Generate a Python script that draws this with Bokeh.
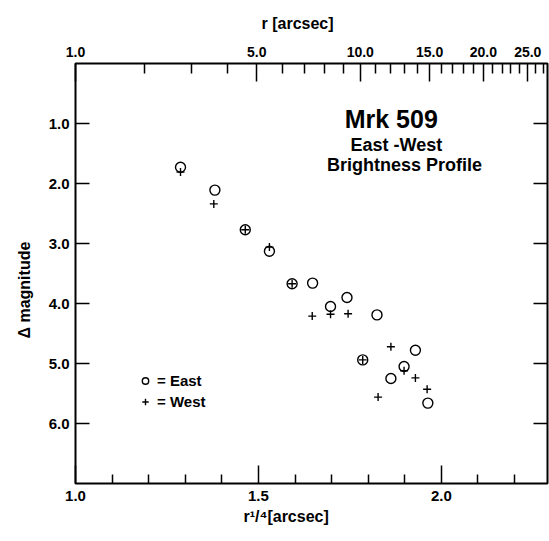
from bokeh.plotting import figure
from bokeh.models import (Range1d, LinearAxis, FixedTicker, CustomJSTickFormatter,
                          Label, Legend, LegendItem, ColumnDataSource, Title)
from bokeh.embed import file_html
from bokeh.resources import INLINE

# ---- data (x = r^(1/4) in arcsec^(1/4), y = delta magnitude) ----
east_r14 = [1.287, 1.381, 1.464, 1.530, 1.592, 1.648, 1.697, 1.742, 1.785, 1.824, 1.862, 1.898, 1.929, 1.963]
east_dmag = [1.73, 2.11, 2.77, 3.13, 3.67, 3.66, 4.05, 3.90, 4.94, 4.19, 5.25, 5.05, 4.78, 5.66]

west_r14 = [1.287, 1.378, 1.464, 1.530, 1.592, 1.647, 1.697, 1.745, 1.785, 1.827, 1.862, 1.898, 1.929, 1.961]
west_dmag = [1.81, 2.34, 2.77, 3.06, 3.67, 4.21, 4.18, 4.17, 4.94, 5.56, 4.72, 5.12, 5.24, 5.43]

# ---- ticks ----
bottom_major = [1.0, 1.5, 2.0]
bottom_minor = [1.1, 1.2, 1.3, 1.4, 1.6, 1.7, 1.8, 1.9, 2.1, 2.2]
top_major_r = [1, 5, 10, 15, 20, 25]
top_minor_r = [2, 3, 4, 6, 7, 8, 9, 11, 12, 13, 14, 16, 17, 18, 19, 21, 22, 23, 24, 26, 27]
y_ticks = [1, 2, 3, 4, 5, 6]

FONT = "Liberation Sans"

p = figure(width=549, height=541,
           x_range=Range1d(1.0, 2.29), y_range=Range1d(7.0, 0.0),
           output_backend="svg", toolbar_location=None,
           x_axis_location=None, y_axis_location=None,
           min_border_left=74, min_border_right=2,
           min_border_top=62, min_border_bottom=58)
p.xgrid.grid_line_color = None
p.ygrid.grid_line_color = None
p.outline_line_color = "black"
p.outline_line_width = 2
p.background_fill_color = "white"
p.border_fill_color = "white"


def style(ax, tick_in, minor_in, label_size="15px"):
    ax.axis_line_color = None
    ax.major_tick_in = tick_in
    ax.major_tick_out = 0
    ax.minor_tick_in = minor_in
    ax.minor_tick_out = 0
    ax.major_tick_line_color = "black"
    ax.major_tick_line_width = 1.5
    ax.minor_tick_line_color = "black"
    ax.minor_tick_line_width = 1.5
    ax.major_label_text_font = FONT
    ax.major_label_text_font_style = "bold"
    ax.major_label_text_font_size = label_size
    ax.major_label_text_color = "black"


fmt1 = CustomJSTickFormatter(code="return tick.toFixed(1);")
blank = CustomJSTickFormatter(code="return '';")

# bottom axis: r^(1/4)
xb = LinearAxis(ticker=FixedTicker(ticks=bottom_major, minor_ticks=bottom_minor), formatter=fmt1)
style(xb, 18, 9)
xb.major_label_standoff = 7
p.add_layout(xb, "below")

# top axis: r
xt = LinearAxis(ticker=FixedTicker(ticks=[r ** 0.25 for r in top_major_r],
                                   minor_ticks=[r ** 0.25 for r in top_minor_r]),
                formatter=CustomJSTickFormatter(code="return Math.pow(tick, 4).toFixed(1);"))
style(xt, 18, 10, "14px")
xt.major_label_standoff = 7
p.add_layout(xt, "above")

# left axis
yl = LinearAxis(ticker=FixedTicker(ticks=y_ticks), formatter=fmt1)
style(yl, 14, 0)
yl.minor_tick_line_color = None
yl.major_label_standoff = 6
p.add_layout(yl, "left")

# right axis (ticks only)
yr = LinearAxis(ticker=FixedTicker(ticks=y_ticks), formatter=blank)
style(yr, 14, 0)
yr.minor_tick_line_color = None
yr.major_label_standoff = 0
p.add_layout(yr, "right")


def side_title(text, offset, standoff):
    return Title(text=text, align="left", offset=offset, standoff=standoff,
                 text_font=FONT, text_font_style="bold", text_font_size="16px",
                 text_color="black")


# axis titles (hand-placed as on the original drawing)
p.title = side_title("r [arcsec]", 186, 24)
p.add_layout(side_title("r¹/⁴[arcsec]", 168, 4), "below")
p.add_layout(side_title("Δ magnitude", 145, 26), "left")

# data
east_src = ColumnDataSource(dict(x=east_r14, y=east_dmag))
west_src = ColumnDataSource(dict(x=west_r14, y=west_dmag))
r_east = p.scatter("x", "y", source=east_src, marker="circle", size=10,
                   fill_color=None, line_color="black", line_width=1.4)
r_west = p.scatter("x", "y", source=west_src, marker="cross", size=8,
                   line_color="black", line_width=1.4)

# title block
for tx, ty, t, sz in [(1.863, 0.93, "Mrk 509", "25px"),
                      (1.877, 1.36, "East -West", "18px"),
                      (1.899, 1.69, "Brightness Profile", "18px")]:
    p.add_layout(Label(x=tx, y=ty, text=t, text_font=FONT, text_font_style="bold",
                       text_font_size=sz, text_align="center", text_baseline="middle",
                       text_color="black"))

legend = Legend(items=[LegendItem(label="= East", renderers=[r_east]),
                       LegendItem(label="= West", renderers=[r_west])],
                location=(62, 71), border_line_color=None, background_fill_alpha=0,
                padding=0, margin=0, spacing=0, glyph_width=16, glyph_height=21,
                label_height=21, label_standoff=4,
                label_text_font=FONT, label_text_font_style="bold",
                label_text_font_size="15px", label_text_color="black")
p.add_layout(legend)

open("out.html", "w").write(file_html(p, INLINE))
